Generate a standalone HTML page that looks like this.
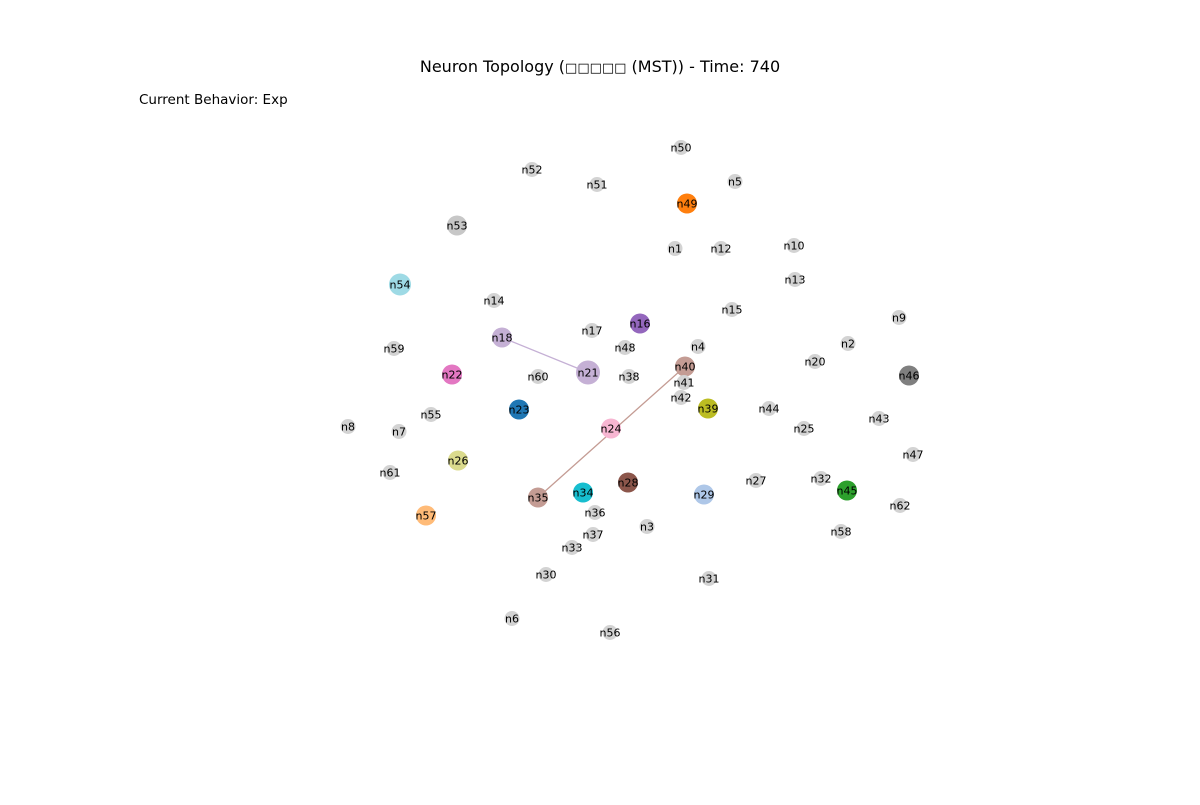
<!DOCTYPE html>
<html><head><meta charset="utf-8"><style>
body{margin:0;background:#fff;}
svg text{font-family:"DejaVu Sans","Liberation Sans",sans-serif;}
</style></head><body>
<svg id="chart" width="1200" height="800" viewBox="0 0 1200 800" xmlns="http://www.w3.org/2000/svg">
<rect width="1200" height="800" fill="#fff"/>
<text x="600" y="72" text-anchor="middle" font-size="16" fill="#000">Neuron Topology (<tspan font-size="13">□□□□□</tspan> (MST)) - Time: 740</text>
<text x="139" y="104" font-size="13.5" fill="#000">Current Behavior: Exp</text>
<g transform="translate(1,-0.5)"><g id="edges"></g><g id="nodes"></g></g>
</svg>
<script>
const nodeNames = ["n50","n52","n51","n5","n49","n53","n1","n12","n10","n13","n54","n14","n15","n9","n17","n16","n18","n48","n4","n2","n59","n20","n40","n21","n22","n60","n38","n46","n41","n42","n23","n39","n44","n55","n43","n8","n7","n24","n25","n47","n26","n61","n28","n27","n32","n34","n45","n35","n29","n36","n62","n3","n58","n37","n57","n33","n30","n31","n6","n56"];
const nodeX = [680,531,596,734,686,456,674,720,793,794,399,493,731,898,591,639,501,624,697,847,393,814,684,587,451,537,628,908,683,680,518,707,768,430,878,347,398,610,803,912,457,389,627,755,820,582,846,537,703,594,899,646,840,592,425,571,545,708,511,609];
const nodeY = [148,170,185,182,204,226,249,249,246,280,285,301,310,318,331,324,338,348,347,344,349,362,367,373,375,377,377,376,383,398,410,409,409,415,419,427,432,429,429,455,461,473,483,481,479,493,491,498,495,513,506,527,532,535,516,548,575,579,619,633];
const nodeColors = ["#d3d3d3","#d3d3d3","#d3d3d3","#d3d3d3","#ff7f0e","#c7c7c7","#d3d3d3","#d3d3d3","#d3d3d3","#d3d3d3","#9edae5","#d3d3d3","#d3d3d3","#d3d3d3","#d3d3d3","#9467bd","#c5b0d5","#d3d3d3","#d3d3d3","#d3d3d3","#d3d3d3","#d3d3d3","#c49c94","#c5b0d5","#e377c2","#d3d3d3","#d3d3d3","#7f7f7f","#d3d3d3","#d3d3d3","#1f77b4","#bcbd22","#d3d3d3","#d3d3d3","#d3d3d3","#d3d3d3","#d3d3d3","#f7b6d2","#d3d3d3","#d3d3d3","#dbdb8d","#d3d3d3","#8c564b","#d3d3d3","#d3d3d3","#17becf","#2ca02c","#c49c94","#aec7e8","#d3d3d3","#d3d3d3","#d3d3d3","#d3d3d3","#d3d3d3","#ffbb78","#d3d3d3","#d3d3d3","#d3d3d3","#d3d3d3","#d3d3d3"];
const nodeSizes = [7.5,7.5,7.5,7.5,10,10,7.5,7.5,7.5,7.5,11,7.5,7.5,7.5,7.5,10,10,7.5,7.5,7.5,7.5,7.5,10,12,10,7.5,7.5,10,7.5,7.5,10,10,7.5,7.5,7.5,7.5,7.5,10,7.5,7.5,10,7.5,10,7.5,7.5,10,10,10,10,7.5,7.5,7.5,7.5,7.5,10,7.5,7.5,7.5,7.5,7.5];
const edgeFrom = ["n18","n35"];
const edgeTo = ["n21","n40"];
const edgeColors = ["#c5b0d5","#c49c94"];
const NS="http://www.w3.org/2000/svg";
const idx = n => nodeNames.indexOf(n);
const eg=document.getElementById('edges'), ng=document.getElementById('nodes');
edgeFrom.forEach((f,i)=>{
  const a=idx(f), b=idx(edgeTo[i]);
  const l=document.createElementNS(NS,'line');
  
  
  l.setAttribute('x1',nodeX[a]);l.setAttribute('y1',nodeY[a]);
  l.setAttribute('x2',nodeX[b]);l.setAttribute('y2',nodeY[b]);
  l.setAttribute('stroke',edgeColors[i]);l.setAttribute('stroke-width','1.3');
  eg.appendChild(l);
});
nodeNames.forEach((n,i)=>{
  const g=document.createElementNS(NS,'g');
  
  
  const c=document.createElementNS(NS,'circle');
  c.setAttribute('cx',nodeX[i]);c.setAttribute('cy',nodeY[i]);c.setAttribute('r',nodeSizes[i]);
  c.setAttribute('fill',nodeColors[i]);
  const t=document.createElementNS(NS,'text');
  t.setAttribute('x',nodeX[i]);t.setAttribute('y',nodeY[i]+4);
  t.setAttribute('text-anchor','middle');t.setAttribute('font-size','11');t.setAttribute('fill','#000');
  t.textContent=n;
  g.appendChild(c);g.appendChild(t);ng.appendChild(g);
});
</script>
</body></html>
